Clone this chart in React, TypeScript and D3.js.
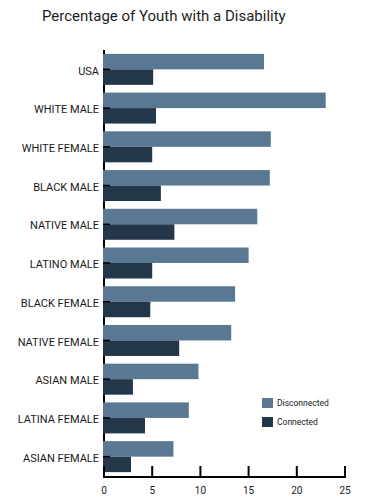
import React from "react";
import * as d3 from "d3";

const categories = ["USA", "WHITE MALE", "WHITE FEMALE", "BLACK MALE", "NATIVE MALE", "LATINO MALE", "BLACK FEMALE", "NATIVE FEMALE", "ASIAN MALE", "LATINA FEMALE", "ASIAN FEMALE"];
const disconnected = [16.6, 23.0, 17.3, 17.2, 15.9, 15.0, 13.6, 13.2, 9.8, 8.8, 7.2];
const connected = [5.1, 5.4, 5.0, 5.9, 7.3, 5.0, 4.8, 7.8, 3.0, 4.25, 2.8];
const xTicks = [0, 5, 10, 15, 20, 25];
const seriesNames = ["Disconnected", "Connected"];
const colors = ["#5a7893", "#24364a"];

export default function App() {
  const W = 368, H = 501;
  const x = d3.scaleLinear().domain([0, 25]).range([104, 345]);
  const y = d3.scaleBand<string>().domain(categories).range([50, 476]).paddingInner(0.2).paddingOuter(0.1);
  const bh = y.bandwidth() / 2;
  const font = "Roboto, 'DejaVu Sans', sans-serif";
  return (
    <svg width={W} height={H} style={{ position: "absolute", left: 0, top: 0 }} fontFamily={font}>
      <rect width={W} height={H} fill="#fff" />
      <text x={42} y={21} fontSize={15} fill="#1e1e1e">Percentage of Youth with a Disability</text>
      {/* left axis line */}
      <line x1={104} x2={104} y1={50} y2={477} stroke="#000" strokeWidth={2} />
      {categories.map((c, i) => {
        const y0 = y(c)!;
        return (
          <g key={c}>
            <rect x={x(0) - 1} y={y0} width={x(disconnected[i]) - x(0) + 1} height={bh} fill={colors[0]} />
            <rect x={x(0) - 1} y={y0 + bh} width={x(connected[i]) - x(0) + 1} height={bh} fill={colors[1]} />
            <line x1={103} x2={110} y1={y0 + bh} y2={y0 + bh} stroke="#000" strokeWidth={1.5} />
            <text x={99} y={y0 + bh + 1.2} dy="0.36em" textAnchor="end" fontSize={11} fill="#1a1a1a">{c}</text>
          </g>
        );
      })}
      {/* bottom axis */}
      <line x1={103} x2={346} y1={477} y2={477} stroke="#000" strokeWidth={2} />
      {xTicks.map(t => (
        <g key={t}>
          <line x1={x(t)} x2={x(t)} y1={466} y2={477} stroke="#000" strokeWidth={2} />
          <text x={x(t)} y={490} dy="0.36em" textAnchor="middle" fontSize={10} fill="#1a1a1a">{t}</text>
        </g>
      ))}
      {/* legend */}
      {seriesNames.map((s, i) => (
        <g key={s}>
          <rect x={262} y={398 + i * 19} width={11} height={10} fill={colors[i]} />
          <text x={277} y={403 + i * 19} dy="0.36em" fontSize={8.5} fill="#1a1a1a">{s}</text>
        </g>
      ))}
    </svg>
  );
}
